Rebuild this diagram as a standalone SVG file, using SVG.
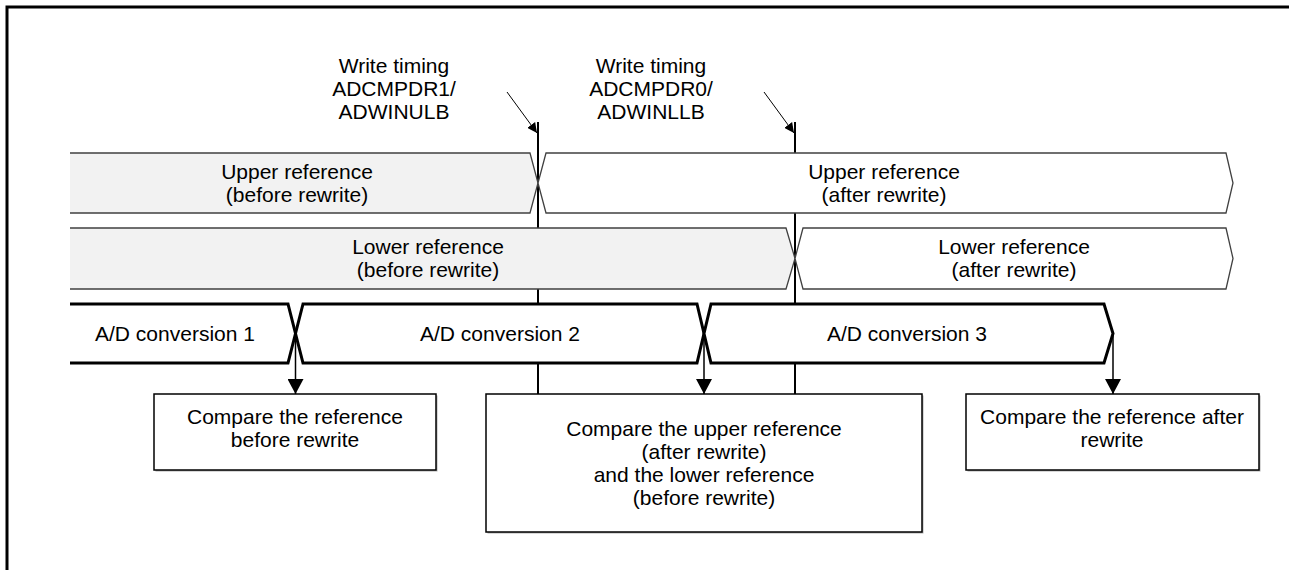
<svg xmlns="http://www.w3.org/2000/svg" width="1289" height="570" viewBox="0 0 1289 570">
<defs>
<marker id="ah" viewBox="0 0 10 10" refX="10" refY="5" markerWidth="10" markerHeight="10" markerUnits="userSpaceOnUse" orient="auto"><path d="M0,0 L10,5 L0,10 Z" fill="#000"/></marker>
<marker id="ad" viewBox="0 0 15 16" refX="15" refY="8" markerWidth="15" markerHeight="16" markerUnits="userSpaceOnUse" orient="auto"><path d="M0,0 L15,8 L0,16 Z" fill="#000"/></marker>
</defs>
<style>
text{font-family:"Liberation Sans",Arial,sans-serif;font-size:21px;fill:#000;text-anchor:middle}
.frame{fill:none;stroke:#000;stroke-width:3}
.tline{stroke:#000;stroke-width:2;fill:none}
.bfill{fill:#f2f2f2;stroke:none}
.bline{fill:none;stroke:#404040;stroke-width:1.3}
.afill{fill:#fff;stroke:#404040;stroke-width:1.3}
.ad{fill:#fff;stroke:#000;stroke-width:3;stroke-linejoin:miter}
.adfill{fill:#fff;stroke:none}
.adl{fill:none;stroke:#000;stroke-width:3}
.box{fill:#fff;stroke:#000;stroke-width:1.5}
.shadow{fill:#b0b0b0}
.thin{stroke:#000;stroke-width:1;fill:none}
.down{stroke:#000;stroke-width:1.5;fill:none}
</style>
<path class="frame" d="M7,570 V7 H1289"/>
<g id="timing-lines">
<line class="tline" x1="538" y1="122" x2="538" y2="394"/>
<line class="tline" x1="795" y1="122" x2="795" y2="394"/>
</g>
<g id="label-write1">
<text x="394" y="73">Write timing</text>
<text x="394" y="96">ADCMPDR1/</text>
<text x="394" y="119">ADWINULB</text>
</g>
<g id="label-write0">
<text x="651" y="73">Write timing</text>
<text x="651" y="96">ADCMPDR0/</text>
<text x="651" y="119">ADWINLLB</text>
</g>
<g id="upper-before">
<path class="bfill" d="M70,153 H530 L538,183 L530,213 H70 Z"/>
<path class="bline" d="M70,153 H530 L538,183 L530,213 H70"/>
<text x="297" y="179">Upper reference</text>
<text x="297" y="202">(before rewrite)</text>
</g>
<g id="upper-after">
<path class="afill" d="M546,153 L538,183 L546,213 H1226 L1233,183 L1226,153 Z"/>
<text x="884" y="179">Upper reference</text>
<text x="884" y="202">(after rewrite)</text>
</g>
<g id="lower-before">
<path class="bfill" d="M70,228 H786 L795,258.5 L786,289 H70 Z"/>
<path class="bline" d="M70,228 H786 L795,258.5 L786,289 H70"/>
<text x="428" y="254">Lower reference</text>
<text x="428" y="277">(before rewrite)</text>
</g>
<g id="lower-after">
<path class="afill" d="M803,228 L795,258.5 L803,289 H1226 L1233,258.5 L1226,228 Z"/>
<text x="1014" y="254">Lower reference</text>
<text x="1014" y="277">(after rewrite)</text>
</g>
<g id="ad1">
<path class="adfill" d="M70,304 H288 L295.5,333.5 L288,363 H70 Z"/>
<path class="adl" d="M70,304 H288 L295.5,333.5 L288,363 H70"/>
<text x="175" y="341">A/D conversion 1</text>
</g>
<g id="ad2">
<path class="ad" d="M303,304 L295.5,333.5 L303,363 H697 L704,333.5 L697,304 Z"/>
<text x="500" y="341">A/D conversion 2</text>
</g>
<g id="ad3">
<path class="ad" d="M711,304 L704,333.5 L711,363 H1104 L1113,333.5 L1104,304 Z"/>
<text x="907" y="341">A/D conversion 3</text>
</g>
<g id="cmp1">
<rect class="shadow" x="155.5" y="395.5" width="282" height="76"/>
<rect class="box" x="154" y="394" width="282" height="76"/>
<text x="295" y="424">Compare the reference</text>
<text x="295" y="447">before rewrite</text>
</g>
<g id="cmp2">
<rect class="shadow" x="487.5" y="395.5" width="436" height="138"/>
<rect class="box" x="486" y="394" width="436" height="138"/>
<text x="704" y="436">Compare the upper reference</text>
<text x="704" y="459">(after rewrite)</text>
<text x="704" y="482">and the lower reference</text>
<text x="704" y="505">(before rewrite)</text>
</g>
<g id="cmp3">
<rect class="shadow" x="967.5" y="395.5" width="293" height="76"/>
<rect class="box" x="966" y="394" width="293" height="76"/>
<text x="1112" y="424">Compare the reference after</text>
<text x="1112" y="447">rewrite</text>
</g>
<g id="connectors">
<line class="thin" x1="507" y1="92" x2="537" y2="133" marker-end="url(#ah)"/>
<line class="thin" x1="764" y1="92" x2="794" y2="133" marker-end="url(#ah)"/>
<line class="down" x1="295.5" y1="333.5" x2="295.5" y2="394" marker-end="url(#ad)"/>
<line class="down" x1="704" y1="333.5" x2="704" y2="394" marker-end="url(#ad)"/>
<line class="down" x1="1113" y1="333.5" x2="1113" y2="394" marker-end="url(#ad)"/>
</g>
</svg>
